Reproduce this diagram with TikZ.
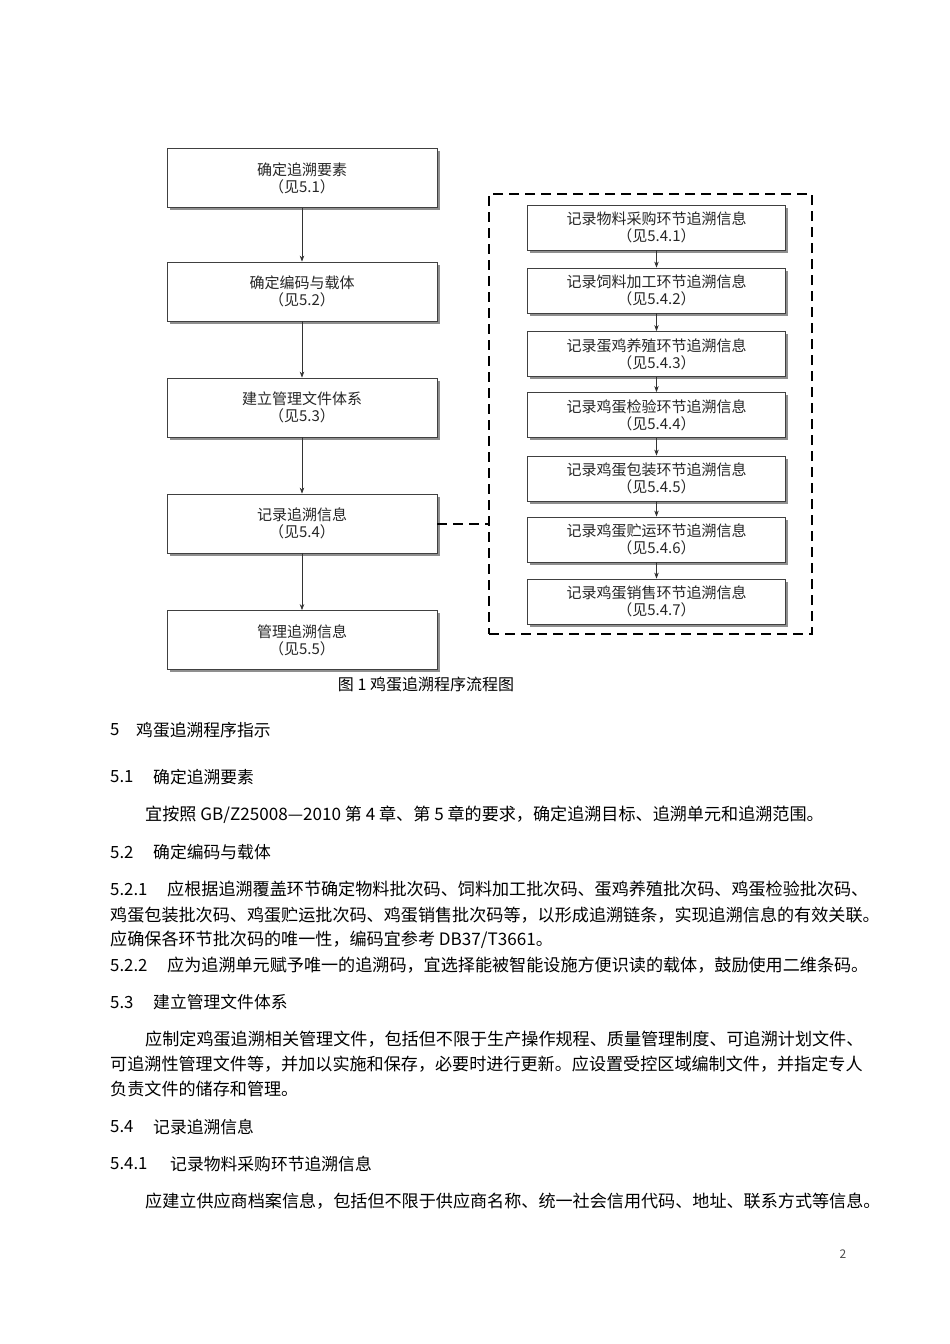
\documentclass[tikz,border=0pt]{standalone}
\usepackage{fontspec}
\setmainfont{Noto Sans CJK SC}
\usetikzlibrary{arrows.meta,positioning,shadows}

\begin{document}
\begin{tikzpicture}[x=1pt,y=-1pt,
  stepbox/.style={draw=black!75,line width=0.8pt,fill=white,text=black!85,
             minimum width=270pt,minimum height=59pt,inner sep=1pt,align=center,
             font=\fontsize{15}{17}\selectfont,
             drop shadow={shadow xshift=2.5pt,shadow yshift=-2.5pt,fill=black!55,opacity=0.8}},
  subbox/.style={stepbox,minimum width=258pt,minimum height=45pt},
  arr/.style={draw=black!80,line width=0.7pt,-{Stealth[length=6pt,width=4.5pt]}},
  grpline/.style={line width=2pt,dash pattern=on 10pt off 6pt},
  body/.style={anchor=west,inner sep=0pt,font=\fontsize{17.1}{20}\selectfont},
  head/.style={anchor=west,inner sep=0pt,font=\fontsize{16.8}{20}\selectfont},
]
\useasboundingbox (0,0) rectangle (950,1344);

\node[stepbox] (l1) at (302,178) {确定追溯要素\\（见5.1）};
\node[stepbox] (l2) at (302,291.5) {确定编码与载体\\（见5.2）};
\node[stepbox] (l3) at (302,407.5) {建立管理文件体系\\（见5.3）};
\node[stepbox] (l4) at (302,523.5) {记录追溯信息\\（见5.4）};
\node[stepbox] (l5) at (302,640) {管理追溯信息\\（见5.5）};
\draw[arr] (l1) -- (l2);
\draw[arr] (l2) -- (l3);
\draw[arr] (l3) -- (l4);
\draw[arr] (l4) -- (l5);

\node[grpline,draw,minimum width=323pt,minimum height=440pt,inner sep=0pt] (grp) at (650.5,414) {};
\node[subbox] (r1) at (656.5,227.5) {记录物料采购环节追溯信息\\（见5.4.1）};
\node[subbox] (r2) at (656.5,290.5) {记录饲料加工环节追溯信息\\（见5.4.2）};
\node[subbox] (r3) at (656.5,354) {记录蛋鸡养殖环节追溯信息\\（见5.4.3）};
\node[subbox] (r4) at (656.5,415) {记录鸡蛋检验环节追溯信息\\（见5.4.4）};
\node[subbox] (r5) at (656.5,478.5) {记录鸡蛋包装环节追溯信息\\（见5.4.5）};
\node[subbox] (r6) at (656.5,539.5) {记录鸡蛋贮运环节追溯信息\\（见5.4.6）};
\node[subbox] (r7) at (656.5,601.5) {记录鸡蛋销售环节追溯信息\\（见5.4.7）};
\foreach \a/\b in {r1/r2,r2/r3,r3/r4,r4/r5,r5/r6,r6/r7}
  \draw[arr] (\a) -- (\b);
\draw[grpline] (l4.east) -- (l4.east -| grp.west);

\node[font=\fontsize{16}{18}\selectfont] (cap) at (426,684) {图 1 鸡蛋追溯程序流程图};

% section text below the figure
\node[head] (n5) at (110,730) {5};
\node[head] (h5) at (136,730) {鸡蛋追溯程序指示};
\node[head] (n51) at (110,777) {5.1};
\node[head] (h51) at (153,777) {确定追溯要素};
\node[body] (p51) at (145,815) {宜按照 GB/Z25008—2010 第 4 章、第 5 章的要求，确定追溯目标、追溯单元和追溯范围。};
\node[head] (n52) at (110,852) {5.2};
\node[head] (h52) at (153,852) {确定编码与载体};
\node[head] (n521) at (110,889) {5.2.1};
\node[body] (p521a) at (167,889) {应根据追溯覆盖环节确定物料批次码、饲料加工批次码、蛋鸡养殖批次码、鸡蛋检验批次码、};
\node[body] (p521b) at (110,915) {鸡蛋包装批次码、鸡蛋贮运批次码、鸡蛋销售批次码等，以形成追溯链条，实现追溯信息的有效关联。};
\node[body] (p521c) at (110,940) {应确保各环节批次码的唯一性，编码宜参考 DB37/T3661。};
\node[head] (n522) at (110,965) {5.2.2};
\node[body] (p522) at (167,965) {应为追溯单元赋予唯一的追溯码，宜选择能被智能设施方便识读的载体，鼓励使用二维条码。};
\node[head] (n53) at (110,1002) {5.3};
\node[head] (h53) at (153,1002) {建立管理文件体系};
\node[body] (p53a) at (145,1039) {应制定鸡蛋追溯相关管理文件，包括但不限于生产操作规程、质量管理制度、可追溯计划文件、};
\node[body] (p53b) at (110,1064) {可追溯性管理文件等，并加以实施和保存，必要时进行更新。应设置受控区域编制文件，并指定专人};
\node[body] (p53c) at (110,1089) {负责文件的储存和管理。};
\node[head] (n54) at (110,1127) {5.4};
\node[head] (h54) at (153,1127) {记录追溯信息};
\node[head] (n541) at (110,1164) {5.4.1};
\node[head] (h541) at (170,1164) {记录物料采购环节追溯信息};
\node[body] (p541) at (145,1201) {应建立供应商档案信息，包括但不限于供应商名称、统一社会信用代码、地址、联系方式等信息。};
\node[font=\fontsize{12}{14}\selectfont,text=black!70] (pg) at (843,1254) {2};
\end{tikzpicture}
\end{document}
